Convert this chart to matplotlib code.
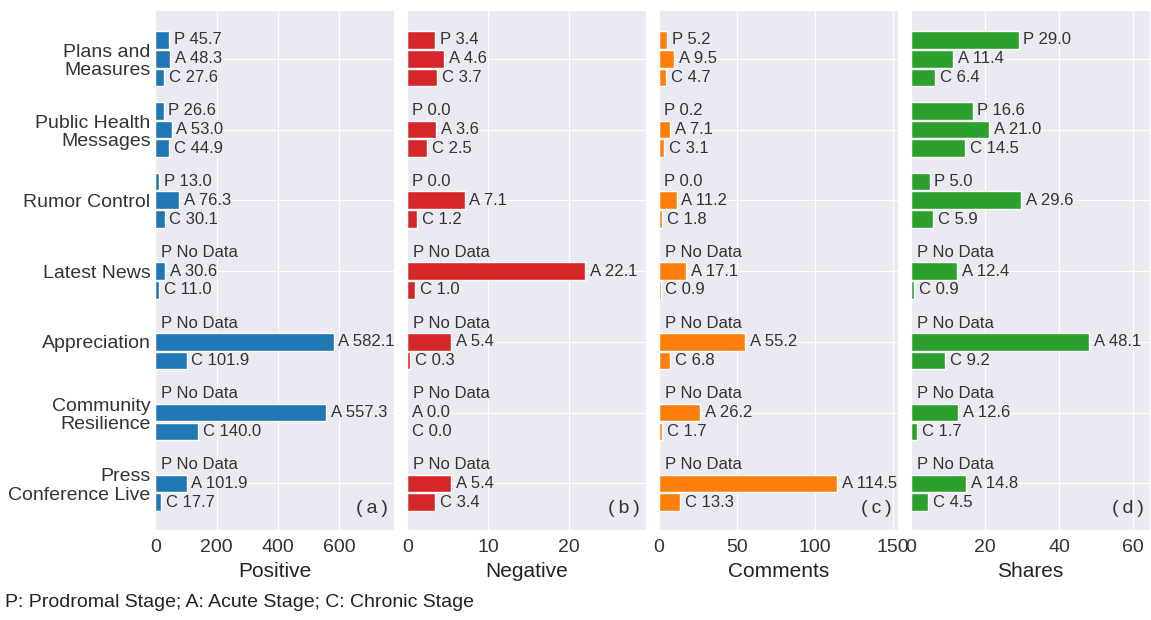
import matplotlib
matplotlib.use("Agg")
import matplotlib.pyplot as plt
import numpy as np
import seaborn as sns

# categories (top to bottom)
categories = ["Plans and\nMeasures", "Public Health\nMessages", "Rumor Control",
              "Latest News", "Appreciation", "Community\nResilience",
              "Press\nConference Live"]

# None = no data for the prodromal stage
positive_p = [45.7, 26.6, 13.0, None, None, None, None]
positive_a = [48.3, 53.0, 76.3, 30.6, 582.1, 557.3, 101.9]
positive_c = [27.6, 44.9, 30.1, 11.0, 101.9, 140.0, 17.7]

negative_p = [3.4, 0.0, 0.0, None, None, None, None]
negative_a = [4.6, 3.6, 7.1, 22.1, 5.4, 0.0, 5.4]
negative_c = [3.7, 2.5, 1.2, 1.0, 0.3, 0.0, 3.4]

comments_p = [5.2, 0.2, 0.0, None, None, None, None]
comments_a = [9.5, 7.1, 11.2, 17.1, 55.2, 26.2, 114.5]
comments_c = [4.7, 3.1, 1.8, 0.9, 6.8, 1.7, 13.3]

shares_p = [29.0, 16.6, 5.0, None, None, None, None]
shares_a = [11.4, 21.0, 29.6, 12.4, 48.1, 12.6, 14.8]
shares_c = [6.4, 14.5, 5.9, 0.9, 9.2, 1.7, 4.5]

panels = [
    ("Positive", "a", "#1f77b4", positive_p, positive_a, positive_c, [0, 200, 400, 600]),
    ("Negative", "b", "#d62728", negative_p, negative_a, negative_c, [0, 10, 20]),
    ("Comments", "c", "#ff7f0e", comments_p, comments_a, comments_c, [0, 50, 100, 150]),
    ("Shares", "d", "#2ca02c", shares_p, shares_a, shares_c, [0, 20, 40, 60]),
]

sns.set_style("darkgrid")
plt.rcParams["font.family"] = ["Liberation Sans", "DejaVu Sans"]

fig, axes = plt.subplots(1, 4, figsize=(11.51, 6.20), dpi=100, sharey=True)
fig.subplots_adjust(left=0.135, right=0.999, top=0.984, bottom=0.145, wspace=0.055)

y = np.arange(len(categories))
h = 0.25
step = 0.265
txt = "#333333"

for ax, (name, tag, color, vp, va, vc, ticks) in zip(axes, panels):
    for off, letter, vals in [(-step, "P", vp), (0, "A", va), (step, "C", vc)]:
        for yi, v in zip(y, vals):
            if v is None:
                ax.annotate(letter + " No Data", (0, yi + off), xytext=(4, 0),
                            textcoords="offset points", va="center", ha="left",
                            fontsize=12, color=txt)
                continue
            ax.barh(yi + off, v, height=h, color=color, edgecolor="white", linewidth=1)
            ax.annotate("%s %.1f" % (letter, v), (v, yi + off), xytext=(3.5, 0),
                        textcoords="offset points", va="center", ha="left",
                        fontsize=12, color=txt)
    vmax = max(max(va), max(vc), max(v for v in vp if v is not None))
    ax.set_xlim(0, vmax * 1.34)
    ax.set_xticks(ticks)
    ax.tick_params(axis="x", labelsize=14, colors=txt, pad=3)
    ax.set_xlabel(name, fontsize=15, color="#222222", labelpad=4)
    ax.text(0.975, 0.025, "(\u2009%s\u2009)" % tag, transform=ax.transAxes,
            ha="right", va="bottom", fontsize=14, color=txt)

axes[0].set_yticks(y)
axes[0].set_yticklabels(categories, fontsize=14, color=txt, linespacing=1.1)
axes[0].set_ylim(len(categories) - 1 + 0.66, -0.69)
for ax in axes:
    ax.tick_params(axis="y", length=0)

fig.text(0.004, 0.015, "P: Prodromal Stage; A: Acute Stage; C: Chronic Stage",
         fontsize=14, color="#222222", ha="left", va="bottom")

plt.savefig("out.png", dpi=100)
